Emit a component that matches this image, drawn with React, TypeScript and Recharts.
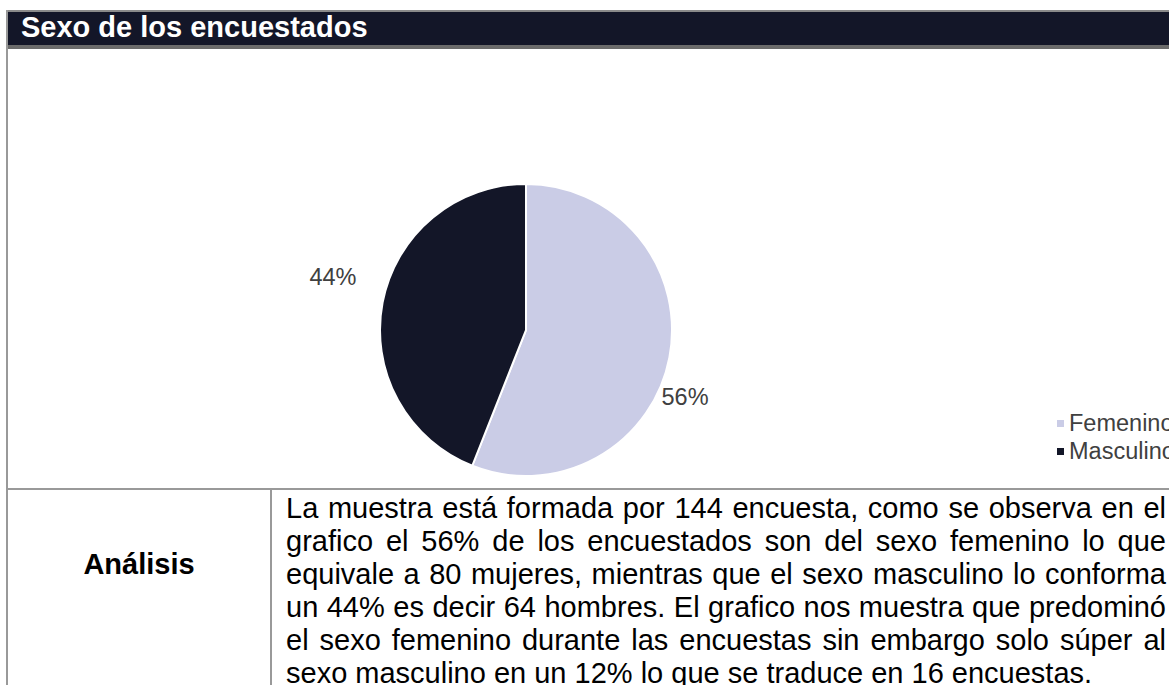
import React from 'react';
import { PieChart, Pie, Cell, Legend } from 'recharts';

const categories = ['Femenino', 'Masculino'];
const percentValues = [56, 44];
const sliceColors = ['#CACCE6', '#131628'];
const titleText = 'Sexo de los encuestados';
const analysisLabel = 'Análisis';
const analysisLines = [
  'La muestra está formada por 144 encuesta, como se observa en el',
  'grafico el 56% de los encuestados son del sexo femenino lo que',
  'equivale a 80 mujeres, mientras que el sexo masculino lo conforma',
  'un 44% es decir 64 hombres. El grafico nos muestra que predominó',
  'el sexo femenino durante las encuestas sin embargo solo súper al',
  'sexo masculino en un 12% lo que se traduce en 16 encuestas.',
];

const data = categories.map((name, i) => ({ name, value: percentValues[i] }));

const FONT = '"Liberation Sans", Arial, sans-serif';
const RADIAN = Math.PI / 180;

const renderLabel = (props: any) => {
  const { cx, cy, midAngle, outerRadius, value } = props;
  const ang = (midAngle - 8) * RADIAN;
  const r = outerRadius + 40;
  const x = cx + r * Math.cos(ang);
  const y = cy - r * Math.sin(ang);
  return (
    <text x={x} y={y} dx={-17} dy={7} fill="#404040" fontSize={23.5} fontFamily={FONT} textAnchor="middle" dominantBaseline="central">
      {`${value}%`}
    </text>
  );
};

const renderLegend = (props: any) => {
  const { payload } = props;
  return (
    <div style={{ fontFamily: FONT, fontSize: 23.5, color: '#404040' }}>
      {payload.map((p: any, i: number) => (
        <div key={i} style={{ display: 'flex', alignItems: 'center', height: 28, whiteSpace: 'nowrap' }}>
          <span style={{ display: 'inline-block', width: 7, height: 7, background: p.color, marginRight: 5 }} />
          <span>{p.value}</span>
        </div>
      ))}
    </div>
  );
};

export default function App() {
  return (
    <div style={{ position: 'fixed', left: 0, top: 0, width: 1169, height: 685, overflow: 'hidden', background: '#fff', fontFamily: FONT }}>
      {/* header */}
      <div style={{ position: 'absolute', left: 6, top: 10, width: 1200, height: 2, background: '#8a8a8a' }} />
      <div style={{ position: 'absolute', left: 6, top: 12, width: 1200, height: 33, background: '#131628' }} />
      <div style={{ position: 'absolute', left: 6, top: 45, width: 1200, height: 4, background: '#6b6b6b' }} />
      <div style={{ position: 'absolute', left: 21, top: 11, height: 33, lineHeight: '33px', color: '#fff', fontWeight: 'bold', fontSize: 29, whiteSpace: 'nowrap' }}>
        {titleText}
      </div>
      {/* left border */}
      <div style={{ position: 'absolute', left: 6, top: 10, width: 2, height: 116, background: '#999' }} />
      <div style={{ position: 'absolute', left: 6, top: 126, width: 1.5, height: 600, background: '#999' }} />
      {/* chart cell */}
      <div style={{ position: 'absolute', left: 7, top: 48 }}>
        <PieChart width={1162} height={441} margin={{ top: 0, right: 0, bottom: 0, left: 0 }}>
          <Pie
            data={data}
            dataKey="value"
            nameKey="name"
            cx={519}
            cy={282}
            outerRadius={146}
            startAngle={90}
            endAngle={-270}
            stroke="#ffffff"
            strokeWidth={2}
            labelLine={false}
            label={renderLabel}
            isAnimationActive={false}
          >
            {data.map((d, i) => (
              <Cell key={d.name} fill={sliceColors[i]} />
            ))}
          </Pie>
          <Legend content={renderLegend} wrapperStyle={{ position: 'absolute', left: 1050, top: 361, width: 200 }} />
        </PieChart>
      </div>
      {/* row divider */}
      <div style={{ position: 'absolute', left: 6, top: 488, width: 1200, height: 2, background: '#999' }} />
      <div style={{ position: 'absolute', left: 270, top: 488, width: 2, height: 300, background: '#999' }} />
      {/* analysis label */}
      <div style={{ position: 'absolute', left: 8, top: 548, width: 262, lineHeight: '33px', textAlign: 'center', fontWeight: 'bold', fontSize: 29, color: '#000' }}>
        {analysisLabel}
      </div>
      {/* paragraph */}
      {analysisLines.map((line, i) => (
        <div
          key={i}
          style={{
            position: 'absolute',
            left: 286,
            top: 492 + i * 33,
            width: 880,
            fontSize: 29,
            lineHeight: '33px',
            color: '#000',
            textAlign: i < analysisLines.length - 1 ? 'justify' : 'left',
            textAlignLast: i < analysisLines.length - 1 ? 'justify' : 'left',
            whiteSpace: 'nowrap',
          } as React.CSSProperties}
        >
          {line}
        </div>
      ))}
    </div>
  );
}
